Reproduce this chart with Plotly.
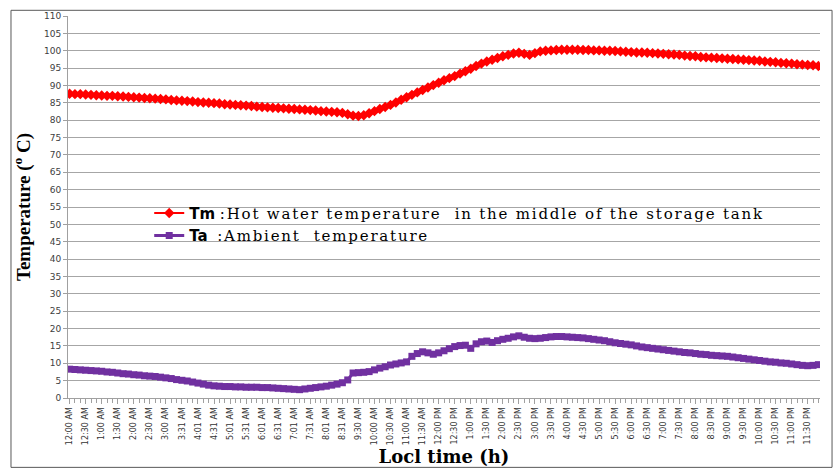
import plotly.graph_objects as go

# Time labels (every 3rd sample is labelled; samples ~10 min apart)
tick_labels = [
    "12:00 AM", "12:30 AM", "1:00 AM", "1:30 AM", "2:00 AM", "2:30 AM", "3:00 AM",
    "3:31 AM", "4:01 AM", "4:31 AM", "5:01 AM", "5:31 AM", "6:01 AM", "6:31 AM",
    "7:01 AM", "7:31 AM", "8:01 AM", "8:31 AM", "9:30 AM", "10:00 AM", "10:30 AM",
    "11:00 AM", "11:30 AM", "12:00 PM", "12:30 PM", "1:00 PM", "1:30 PM", "2:00 PM",
    "2:30 PM", "3:00 PM", "3:30 PM", "4:00 PM", "4:30 PM", "5:00 PM", "5:30 PM",
    "6:00 PM", "6:30 PM", "7:00 PM", "7:30 PM", "8:00 PM", "8:30 PM", "9:00 PM",
    "9:30 PM", "10:00 PM", "10:30 PM", "11:00 PM", "11:30 PM",
]

# Tm: hot water temperature in the middle of the storage tank (deg C)
tm = [
    87.6, 87.5, 87.5, 87.4, 87.3, 87.2, 87.1, 87.0, 87.0, 86.9,
    86.8, 86.7, 86.6, 86.5, 86.4, 86.3, 86.2, 86.1, 86.0, 85.8,
    85.7, 85.6, 85.5, 85.4, 85.2, 85.1, 85.0, 84.9, 84.8, 84.6,
    84.5, 84.4, 84.3, 84.2, 84.1, 83.9, 83.8, 83.7, 83.6, 83.5,
    83.4, 83.3, 83.2, 83.1, 83.0, 82.9, 82.8, 82.6, 82.5, 82.4,
    82.3, 82.1, 81.7, 81.3, 81.2, 81.4, 82.0, 82.6, 83.2, 83.8,
    84.4, 85.1, 85.9, 86.6, 87.3, 88.0, 88.7, 89.4, 90.1, 90.8,
    91.5, 92.1, 92.7, 93.4, 94.1, 94.8, 95.6, 96.3, 96.9, 97.4,
    97.9, 98.4, 98.8, 99.2, 99.4, 99.1, 98.8, 99.3, 99.8, 100.0,
    100.1, 100.2, 100.3, 100.3, 100.3, 100.3, 100.2, 100.2, 100.1, 100.1,
    100.0, 100.0, 99.9, 99.8, 99.7, 99.6, 99.5, 99.5, 99.4, 99.3,
    99.2, 99.1, 99.0, 98.9, 98.8, 98.6, 98.5, 98.4, 98.2, 98.1,
    98.0, 97.9, 97.8, 97.7, 97.6, 97.5, 97.4, 97.3, 97.2, 97.1,
    96.9, 96.8, 96.7, 96.5, 96.4, 96.3, 96.1, 96.0, 95.9, 95.8,
    95.6,
]

# Ta: ambient temperature (deg C)
ta = [
    8.3, 8.2, 8.1, 8.0, 7.9, 7.8, 7.7, 7.5, 7.4, 7.2,
    7.0, 6.9, 6.7, 6.6, 6.4, 6.3, 6.2, 6.0, 5.8, 5.6,
    5.3, 5.1, 4.9, 4.6, 4.3, 4.0, 3.7, 3.5, 3.4, 3.3,
    3.3, 3.2, 3.2, 3.1, 3.1, 3.1, 3.0, 3.0, 2.9, 2.8,
    2.7, 2.6, 2.5, 2.4, 2.6, 2.8, 3.0, 3.2, 3.4, 3.7,
    4.0, 4.4, 5.2, 7.2, 7.3, 7.4, 7.6, 8.1, 8.6, 9.0,
    9.5, 9.8, 10.1, 10.4, 12.0, 12.8, 13.3, 13.0, 12.6, 13.0,
    13.6, 14.2, 14.8, 15.1, 15.2, 14.3, 15.6, 16.2, 16.4, 16.0,
    16.5, 16.9, 17.2, 17.6, 17.9, 17.5, 17.2, 17.1, 17.2, 17.4,
    17.6, 17.7, 17.7, 17.6, 17.5, 17.4, 17.3, 17.1, 16.9, 16.7,
    16.5, 16.2, 15.9, 15.7, 15.5, 15.3, 15.0, 14.7, 14.5, 14.3,
    14.1, 13.9, 13.7, 13.5, 13.3, 13.1, 13.0, 12.8, 12.6, 12.5,
    12.3, 12.2, 12.1, 12.0, 11.8, 11.6, 11.4, 11.2, 11.0, 10.8,
    10.6, 10.4, 10.3, 10.1, 10.0, 9.8, 9.6, 9.4, 9.3, 9.4,
    9.6,
]

y_ticks = list(range(0, 115, 5))

x = list(range(len(tm)))
tick_pos = [i * 3 for i in range(len(tick_labels))]

SP = "<span style='letter-spacing:1.8px'>"
fig = go.Figure()
fig.add_trace(go.Scatter(
    x=x, y=tm, mode="lines+markers",
    name="<span style='font-family:DejaVu Sans;font-weight:bold'>Tm</span> " + SP
         + ":Hot water temperature &nbsp;in the middle of the storage tank</span>",
    line=dict(color="#ff0000", width=2),
    marker=dict(symbol="diamond", size=8, color="#ff0000"),
))
fig.add_trace(go.Scatter(
    x=x, y=ta, mode="lines+markers",
    name="<span style='font-family:DejaVu Sans;font-weight:bold'>Ta</span> &nbsp;" + SP
         + ":Ambient &nbsp;temperature</span>",
    line=dict(color="#7030a0", width=3),
    marker=dict(symbol="square", size=7, color="#7030a0"),
))

fig.update_layout(
    width=835, height=470,
    margin=dict(l=68, r=15, t=16, b=72),
    paper_bgcolor="white", plot_bgcolor="white",
    showlegend=True,
    legend=dict(
        x=0.108, y=0.527, xanchor="left", yanchor="top",
        bgcolor="rgba(0,0,0,0)",
        font=dict(family="DejaVu Serif", size=15, color="#000000"),
        tracegroupgap=0, itemwidth=30,
    ),
    xaxis=dict(
        range=[-0.3, 140.3], automargin=False,
        tickmode="array", tickvals=tick_pos, ticktext=tick_labels,
        tickangle=-90,
        tickfont=dict(family="DejaVu Sans", size=8, color="#333333"),
        ticks="outside", ticklen=5, tickcolor="#a0a0a0",
        minor=dict(tickmode="linear", tick0=0, dtick=1, ticks="outside",
                   ticklen=4, tickcolor="#a0a0a0", showgrid=False),
        showline=True, linecolor="#a0a0a0", linewidth=1,
        showgrid=False, zeroline=False,
        title=dict(text="<b>Locl time (h)</b>", standoff=6,
                   font=dict(family="DejaVu Serif", size=18, color="#000000")),
    ),
    yaxis=dict(
        range=[0, 110], automargin=False,
        tickmode="array", tickvals=y_ticks,
        tickfont=dict(family="DejaVu Sans", size=9, color="#404040"),
        ticks="outside", ticklen=4, tickcolor="#a0a0a0",
        showline=True, linecolor="#a0a0a0", linewidth=1,
        showgrid=True, gridcolor="#a6a6a6", gridwidth=1,
        zeroline=False,
        title=dict(text="<b>Temperature (<sup>o</sup> C)</b>", standoff=8,
                   font=dict(family="Liberation Serif", size=19, color="#000000")),
    ),
    shapes=[dict(
        type="rect", xref="paper", yref="paper",
        x0=-0.0758, x1=1.016, y0=-0.1816, y1=1.0149,
        line=dict(color="#595959", width=1), fillcolor="rgba(0,0,0,0)",
        layer="below",
    )],
)

fig.write_html("out.html", config={"displayModeBar": False},
               post_script="document.body.style.margin='0';")
